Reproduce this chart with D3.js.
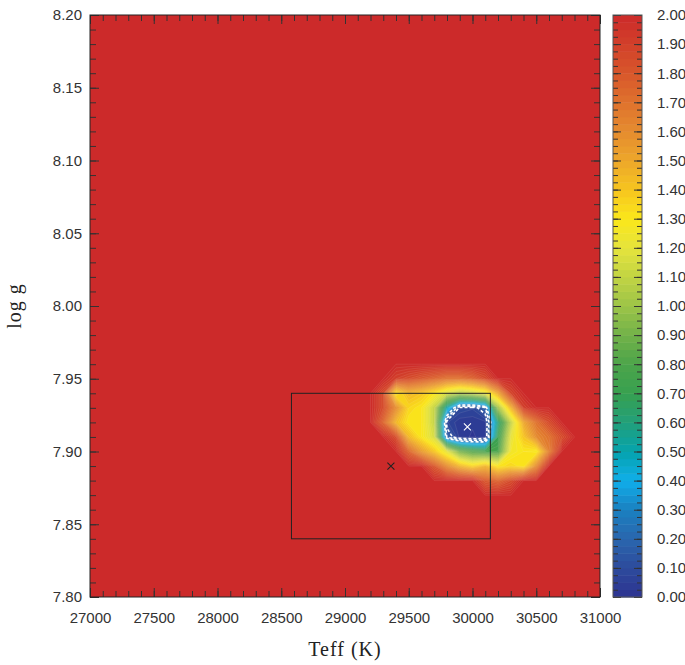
<!DOCTYPE html>
<html>
<head>
<meta charset="utf-8">
<script src="https://cdn.jsdelivr.net/npm/d3@7"></script>
<style>
body { margin: 0; background: #fff; }
text { font-family: "Liberation Sans", Arial, sans-serif; fill: #333; }
.title { font-family: "Liberation Serif", "DejaVu Serif", serif; fill: #222; }
</style>
</head>
<body>
<svg id="chart" width="685" height="665"></svg>
<script>
// sampled fit window, chi2 values (clipped at 2.00 everywhere else)
var teffGrid = [29100, 29200, 29300, 29400, 29500, 29600, 29700, 29800, 29900,
                30000, 30100, 30200, 30300, 30400, 30500, 30600, 30700, 30800];
var loggGrid = [7.95, 7.94, 7.93, 7.92, 7.91, 7.90, 7.89, 7.88];
var chiRows = [
  [2, 2, 2,    1.90, 1.85, 1.80, 1.75, 1.70, 1.70, 1.75, 1.85, 2,    2,    2,    2,    2,    2,    2],
  [2, 2, 1.85, 1.30, 1.45, 1.40, 1.30, 1.15, 1.05, 1.10, 1.20, 1.50, 1.88, 2,    2,    2,    2,    2],
  [2, 2, 1.85, 1.60, 1.35, 1.30, 1.10, 0.50, 0.10, 0.08, 0.18, 1.00, 1.45, 1.90, 2,    2,    2,    2],
  [2, 2, 1.75, 1.45, 1.30, 1.30, 1.10, 0.08, 0.03, 0.03, 0.04, 0.60, 1.10, 1.50, 1.70, 1.85, 2,    2],
  [2, 2, 2,    1.85, 1.45, 1.30, 1.15, 0.18, 0.04, 0.02, 0.04, 0.70, 1.20, 1.40, 1.60, 1.70, 1.85, 2],
  [2, 2, 2,    2,    1.75, 1.55, 1.40, 1.20, 0.90, 0.80, 0.75, 0.78, 1.25, 1.30, 1.28, 1.65, 2,    2],
  [2, 2, 2,    2,    2,    2,    1.80, 1.60, 1.45, 1.35, 1.45, 1.30, 1.35, 1.30, 1.60, 2,    2,    2],
  [2, 2, 2,    2,    2,    2,    2,    2,    2,    2,    1.80, 1.75, 1.85, 2,    2,    2,    2,    2]
];
var chiCap = 2.0;

var xTicks = [27000, 27500, 28000, 28500, 29000, 29500, 30000, 30500, 31000];
var yTicks = [7.80, 7.85, 7.90, 7.95, 8.00, 8.05, 8.10, 8.15, 8.20];
var barTicks = [0.0, 0.1, 0.2, 0.3, 0.4, 0.5, 0.6, 0.7, 0.8, 0.9, 1.0,
                1.1, 1.2, 1.3, 1.4, 1.5, 1.6, 1.7, 1.8, 1.9, 2.0];

// colour table
var colorStops = [0.0, 0.1, 0.2, 0.3, 0.4, 0.5, 0.6, 0.7, 0.8, 0.9, 1.0,
                  1.1, 1.2, 1.3, 1.4, 1.5, 1.6, 1.7, 1.8, 1.9, 2.0];
var colorList = ["#2d3390", "#2d4b9c", "#2a66ae", "#1a80c0", "#10aeea", "#05a3ad",
                 "#22a07a", "#37a050", "#4ca44a", "#72b249", "#9cc448", "#c2d443",
                 "#e5e43c", "#fbe71a", "#f6c51f", "#eda72a", "#e58c2f", "#df722d",
                 "#d8572b", "#d2402a", "#cc2a2a"];

// literature value with error box, and best fit
var litTeff = 29360, litTeffErr = 780, litLogg = 7.89, litLoggErr = 0.05;
var bestTeff = 29960, bestLogg = 7.917;
var whiteLevels = [0.12, 0.20, 0.28];

var svg = d3.select("#chart");
var mLeft = 90, mRight = 600, mTop = 15, mBottom = 597;

var x = d3.scaleLinear().domain([27000, 31000]).range([mLeft, mRight]);
var y = d3.scaleLinear().domain([7.80, 8.20]).range([mBottom, mTop]);
var color = d3.scaleLinear().domain(colorStops).range(colorList);

// full grid over the plot: 27000..31000 by 100, 7.80..8.20 by 0.01
var nx = 41, ny = 41;
var values = new Array(nx * ny).fill(chiCap);
loggGrid.forEach(function(g, r) {
  var j = Math.round((g - 7.80) / 0.01);
  teffGrid.forEach(function(t, c) {
    var i = Math.round((t - 27000) / 100);
    values[i + j * nx] = chiRows[r][c];
  });
});

var levels = d3.range(0, 81).map(function(i) { return i / 40; });
var contours = d3.contours().size([nx, ny]).thresholds(levels)(values);

var proj = d3.geoTransform({
  point: function(px, py) {
    this.stream.point(x(27000 + (px - 0.5) * 100), y(7.80 + (py - 0.5) * 0.01));
  }
});
var path = d3.geoPath(proj);

svg.append("clipPath").attr("id", "plotClip")
  .append("rect").attr("x", mLeft).attr("y", mTop)
  .attr("width", mRight - mLeft).attr("height", mBottom - mTop);

var plot = svg.append("g").attr("clip-path", "url(#plotClip)");

plot.selectAll("path.fill")
  .data(contours)
  .enter()
  .append("path")
    .attr("class", "fill")
    .attr("d", path)
    .attr("fill", function(d) { return d.value < chiCap ? color(d.value + 0.0125) : color(chiCap); })
    .attr("stroke", "none");

// thin lines at every level
plot.selectAll("path.line")
  .data(contours.filter(function(d) { return d.value > 0; }))
  .enter()
  .append("path")
    .attr("class", "line")
    .attr("d", path)
    .attr("fill", "none")
    .attr("stroke", "rgba(255,235,225,0.2)")
    .attr("stroke-width", 0.5);

// white dashed confidence contours
var whiteContours = d3.contours().size([nx, ny]).thresholds(whiteLevels)(values);
plot.selectAll("path.conf")
  .data(whiteContours)
  .enter()
  .append("path")
    .attr("class", "conf")
    .attr("d", path)
    .attr("fill", "none")
    .attr("stroke", "#fff")
    .attr("stroke-width", 1.6)
    .attr("stroke-dasharray", "3,2");

// error box and markers
svg.append("rect")
  .attr("x", x(litTeff - litTeffErr))
  .attr("y", y(litLogg + litLoggErr))
  .attr("width", x(litTeff + litTeffErr) - x(litTeff - litTeffErr))
  .attr("height", y(litLogg - litLoggErr) - y(litLogg + litLoggErr))
  .attr("fill", "none")
  .attr("stroke", "#222")
  .attr("stroke-width", 1);

function cross(cx, cy, col) {
  var s = 3.5;
  svg.append("path")
    .attr("d", "M" + (cx - s) + "," + (cy - s) + "L" + (cx + s) + "," + (cy + s) +
               "M" + (cx - s) + "," + (cy + s) + "L" + (cx + s) + "," + (cy - s))
    .attr("stroke", col)
    .attr("stroke-width", 1.1);
}
cross(x(litTeff), y(litLogg), "#222");
cross(x(bestTeff), y(bestLogg), "#fff");

// axes, ticks pointing inward
var xMinor = d3.range(27000, 31001, 100);
var yMinor = d3.range(0, 41).map(function(i) { return 7.80 + i * 0.01; });

function tickStyle(g) {
  g.select(".domain").remove();
  g.selectAll(".tick line").attr("stroke", "#333");
  g.selectAll(".tick text").style("font-size", "15px").attr("fill", "#333");
}

svg.append("g").attr("transform", "translate(0," + mBottom + ")")
  .call(d3.axisBottom(x).tickValues(xMinor).tickSize(-6).tickFormat("")).call(tickStyle);
svg.append("g").attr("transform", "translate(0," + mBottom + ")")
  .call(d3.axisBottom(x).tickValues(xTicks).tickSize(-9).tickPadding(15).tickFormat(d3.format("d"))).call(tickStyle);
svg.append("g").attr("transform", "translate(0," + mTop + ")")
  .call(d3.axisTop(x).tickValues(xMinor).tickSize(-6).tickFormat("")).call(tickStyle);
svg.append("g").attr("transform", "translate(0," + mTop + ")")
  .call(d3.axisTop(x).tickValues(xTicks).tickSize(-9).tickFormat("")).call(tickStyle);

svg.append("g").attr("transform", "translate(" + mLeft + ",0)")
  .call(d3.axisLeft(y).tickValues(yMinor).tickSize(-6).tickFormat("")).call(tickStyle);
svg.append("g").attr("transform", "translate(" + mLeft + ",0)")
  .call(d3.axisLeft(y).tickValues(yTicks).tickSize(-9).tickPadding(8).tickFormat(d3.format(".2f"))).call(tickStyle);
svg.append("g").attr("transform", "translate(" + mRight + ",0)")
  .call(d3.axisRight(y).tickValues(yMinor).tickSize(-6).tickFormat("")).call(tickStyle);
svg.append("g").attr("transform", "translate(" + mRight + ",0)")
  .call(d3.axisRight(y).tickValues(yTicks).tickSize(-9).tickFormat("")).call(tickStyle);

svg.append("rect")
  .attr("x", mLeft).attr("y", mTop)
  .attr("width", mRight - mLeft).attr("height", mBottom - mTop)
  .attr("fill", "none").attr("stroke", "#222").attr("stroke-width", 1);

// colour bar
var barL = 613, barR = 642;
var cy = d3.scaleLinear().domain([0, chiCap]).range([mBottom, mTop]);
var bands = levels.slice(0, 80);

svg.selectAll("rect.band")
  .data(bands)
  .enter()
  .append("rect")
    .attr("class", "band")
    .attr("x", barL)
    .attr("width", barR - barL)
    .attr("y", function(d) { return cy(d + 0.025); })
    .attr("height", function(d) { return cy(d) - cy(d + 0.025) + 0.5; })
    .attr("fill", function(d) { return color(d + 0.0125); });

svg.append("g").attr("transform", "translate(" + barL + ",0)")
  .call(d3.axisLeft(cy).tickValues(levels).tickSize(-5).tickFormat("")).call(tickStyle);
svg.append("g").attr("transform", "translate(" + barL + ",0)")
  .call(d3.axisLeft(cy).tickValues(barTicks).tickSize(-8).tickFormat("")).call(tickStyle);
svg.append("g").attr("transform", "translate(" + barR + ",0)")
  .call(d3.axisRight(cy).tickValues(levels).tickSize(-5).tickFormat("")).call(tickStyle);
svg.append("g").attr("transform", "translate(" + barR + ",0)")
  .call(d3.axisRight(cy).tickValues(barTicks).tickSize(-8).tickPadding(15).tickFormat(d3.format(".2f"))).call(tickStyle);

svg.append("rect")
  .attr("x", barL).attr("y", mTop)
  .attr("width", barR - barL).attr("height", mBottom - mTop)
  .attr("fill", "none").attr("stroke", "#555").attr("stroke-width", 1);

// axis titles
svg.append("text")
  .attr("class", "title")
  .attr("x", (mLeft + mRight) / 2)
  .attr("y", 656)
  .attr("text-anchor", "middle")
  .style("font-size", "20px")
  .style("letter-spacing", "1px")
  .text("Teff (K)");

svg.append("text")
  .attr("class", "title")
  .attr("transform", "translate(21," + ((mTop + mBottom) / 2) + ") rotate(-90)")
  .attr("text-anchor", "middle")
  .style("font-size", "20px")
  .style("letter-spacing", "1px")
  .text("log g");
</script>
</body>
</html>
